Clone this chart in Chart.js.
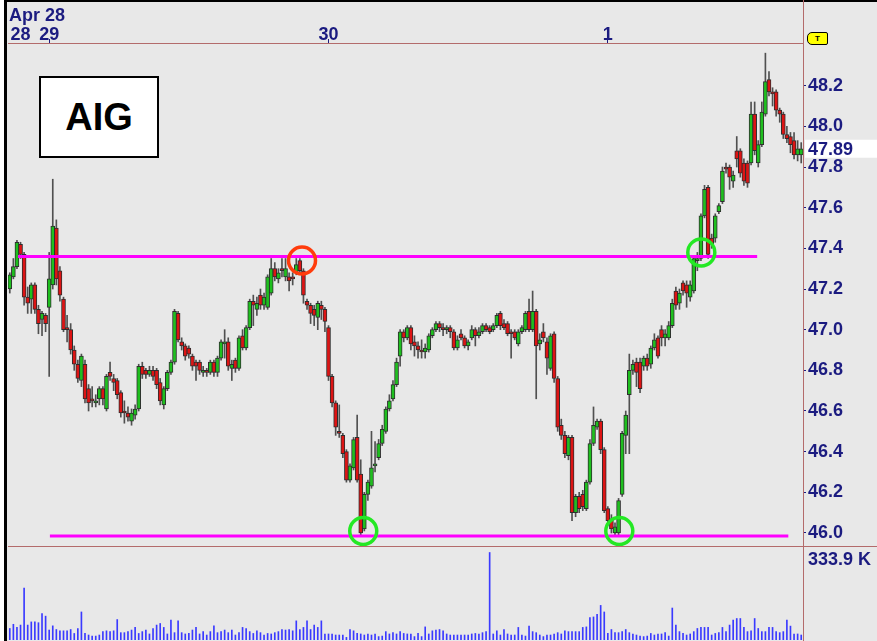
<!DOCTYPE html>
<html>
<head>
<meta charset="utf-8">
<script src="https://cdn.jsdelivr.net/npm/chart.js@4.4.1/dist/chart.umd.min.js"></script>
<style>
html,body{margin:0;padding:0;width:877px;height:641px;overflow:hidden;background:#fff;font-family:"Liberation Sans",Arial,sans-serif;}
#frame{position:absolute;left:4px;top:0;width:873px;height:641px;background:#e8e8e8;border-left:3px solid #000;border-top:2px solid #000;box-sizing:border-box;}
canvas{position:absolute;}
#price{left:-10px;top:0;}
#volume{left:-10px;top:546px;}
.vline{position:absolute;left:803px;top:0;width:1px;height:641px;background:#b36b6b;}
.hline{position:absolute;left:8px;top:546px;width:869px;height:1px;background:#b36b6b;}
.lbl{position:absolute;color:#1b1b80;font-weight:bold;font-size:18px;white-space:nowrap;line-height:18px;}
#aig{position:absolute;left:39px;top:76px;width:120px;height:82px;box-sizing:border-box;border:2px solid #000;background:#fff;font-weight:bold;font-size:38px;text-align:center;line-height:78px;color:#000;}
#ttag{position:absolute;left:807px;top:32px;width:19px;height:11px;background:#ffff00;border:1px solid #000;border-radius:5px 2px 2px 5px;font-size:8px;font-weight:bold;text-align:center;line-height:11px;color:#000;}
</style>
</head>
<body>
<div id="frame"></div>
<canvas id="volume" width="887" height="95"></canvas>
<canvas id="price" width="887" height="580"></canvas>
<div class="vline"></div>
<div class="hline"></div>
<div class="lbl" style="left:9px;top:6px;">Apr 28</div>
<div class="lbl" style="left:808px;top:550px;">333.9 K</div>
<div id="ttag">T</div>
<div id="aig">AIG</div>
<script>
// ---- data (5-minute bars, Apr 28 - May 1) ----
const opens = [
47.20,47.26,47.31,47.42,47.37,47.16,47.15,47.22,47.10,47.05,
47.07,47.11,47.22,47.50,47.29,47.15,47.01,47.00,46.90,46.83,
46.75,46.83,46.71,46.66,46.64,46.66,46.71,46.61,46.79,46.76,
46.75,46.69,46.60,46.59,46.55,46.58,46.61,46.82,46.80,46.78,
46.80,46.80,46.74,46.63,46.71,46.79,46.84,47.08,46.94,46.92,
46.91,46.87,46.84,46.84,46.79,46.80,46.79,46.84,46.79,46.86,
46.93,46.94,46.81,46.85,46.81,46.97,46.91,47.01,47.14,47.10,
47.17,47.12,47.11,47.18,47.30,47.25,47.30,47.26,47.26,47.26,
47.28,47.34,47.29,47.14,47.12,47.10,47.06,47.12,47.10,47.01,
46.77,46.64,46.50,46.48,46.40,46.26,46.32,46.47,46.29,46.02,
46.19,46.23,46.33,46.37,46.44,46.50,46.61,46.66,46.73,46.87,
46.99,46.96,47.01,46.94,46.92,46.90,46.89,46.90,46.97,47.00,
47.03,47.01,47.00,47.01,46.99,46.91,46.98,46.96,46.92,46.96,
47.00,46.97,46.99,47.02,47.01,47.00,47.02,47.08,47.03,47.03,
46.99,46.99,46.93,46.99,47.00,47.09,47.00,47.09,46.93,46.99,
46.94,46.81,46.98,46.76,46.53,46.48,46.38,46.47,46.10,46.18,
46.19,46.12,46.25,46.44,46.52,46.55,46.41,46.12,46.07,46.00,
46.00,46.19,46.48,46.68,46.80,46.84,46.84,46.82,46.86,46.83,
46.91,46.96,47.00,46.96,46.96,47.02,47.19,47.13,47.23,47.22,
47.16,47.19,47.34,47.35,47.56,47.70,47.45,47.45,47.58,47.63,
47.80,47.80,47.73,47.88,47.88,47.82,47.82,47.82,48.06,47.82,
47.91,48.06,48.23,48.17,48.17,48.08,48.06,47.96,47.95,47.93,
47.86,47.86];
const highs = [
47.28,47.35,47.44,47.43,47.38,47.21,47.23,47.23,47.12,47.09,
47.08,47.38,47.74,47.54,47.31,47.16,47.07,47.03,46.92,46.85,
46.88,46.85,46.73,46.72,46.68,46.72,46.72,46.78,46.84,46.78,
46.76,46.70,46.65,46.62,46.61,46.63,46.83,46.84,46.81,46.82,
46.82,46.81,46.76,46.72,46.80,46.85,47.10,47.09,46.96,46.93,
46.92,46.88,46.85,46.85,46.82,46.81,46.85,46.85,46.87,46.95,
47.00,46.96,46.85,46.86,46.97,47.00,47.02,47.15,47.17,47.16,
47.20,47.18,47.27,47.35,47.33,47.30,47.35,47.35,47.28,47.28,
47.35,47.35,47.30,47.15,47.13,47.12,47.14,47.14,47.11,47.02,
46.78,46.65,46.63,46.49,46.41,46.34,46.47,46.58,46.36,46.20,
46.26,46.50,46.45,46.46,46.53,46.62,46.68,46.75,46.86,47.00,
47.00,47.02,47.02,46.97,46.94,46.95,46.93,46.98,47.01,47.04,
47.04,47.03,47.02,47.02,47.00,46.97,47.00,46.97,46.95,47.02,
47.01,47.01,47.03,47.03,47.02,47.03,47.08,47.09,47.05,47.04,
47.00,47.00,47.00,47.02,47.09,47.15,47.19,47.10,46.98,47.03,
46.96,46.98,46.99,46.77,46.56,46.50,46.48,46.48,46.19,46.20,
46.21,46.26,46.46,46.62,46.56,46.56,46.42,46.13,46.09,46.05,
46.17,46.50,46.60,46.88,46.85,46.86,46.86,46.87,46.88,46.92,
46.98,46.97,47.02,47.00,47.04,47.15,47.21,47.20,47.24,47.24,
47.24,47.36,47.38,47.57,47.71,47.71,47.47,47.57,47.62,47.80,
47.82,47.81,47.78,47.95,47.89,47.84,47.83,48.12,48.12,47.93,
48.12,48.36,48.27,48.19,48.18,48.09,48.07,48.00,47.97,47.97,
47.93,47.92];
const lows = [
47.18,47.25,47.30,47.35,47.12,47.08,47.08,47.08,46.98,46.97,
46.99,46.77,47.20,47.22,47.14,46.99,46.94,46.88,46.80,46.74,
46.72,46.64,46.60,46.62,46.62,46.63,46.63,46.60,46.75,46.70,
46.66,46.57,46.54,46.55,46.53,46.56,46.60,46.76,46.76,46.77,
46.75,46.71,46.63,46.61,46.70,46.78,46.83,46.94,46.90,46.85,
46.86,46.80,46.75,46.78,46.77,46.77,46.78,46.77,46.77,46.85,
46.86,46.80,46.75,46.79,46.80,46.90,46.90,47.00,47.02,47.07,
47.10,47.10,47.10,47.17,47.24,47.23,47.26,47.24,47.19,47.22,
47.27,47.27,47.13,47.10,47.03,47.02,47.00,47.05,46.99,46.75,
46.62,46.48,46.47,46.37,46.25,46.25,46.31,46.25,45.99,46.01,
46.16,46.22,46.30,46.36,46.43,46.49,46.60,46.65,46.72,46.82,
46.94,46.95,46.90,46.87,46.86,46.86,46.86,46.89,46.96,46.99,
46.99,46.97,46.98,46.96,46.90,46.90,46.95,46.91,46.90,46.95,
46.92,46.96,46.98,46.99,46.98,46.99,47.01,47.00,47.00,46.97,
46.86,46.95,46.92,46.98,46.99,46.99,46.99,46.66,46.90,46.94,
46.78,46.80,46.74,46.50,46.46,46.37,46.36,46.06,46.08,46.10,
46.11,46.11,46.24,46.43,46.51,46.39,46.10,46.04,46.00,45.99,
45.99,46.18,46.39,46.39,46.78,46.72,46.69,46.80,46.80,46.81,
46.90,46.86,46.92,46.92,46.95,47.01,47.10,47.10,47.17,47.11,
47.14,47.18,47.29,47.34,47.55,47.35,47.40,47.43,47.57,47.62,
47.77,47.69,47.70,47.80,47.75,47.71,47.70,47.81,47.86,47.80,
47.90,48.05,48.15,48.10,48.05,48.02,47.94,47.92,47.87,47.84,
47.83,47.82];
const closes = [
47.27,47.31,47.43,47.37,47.16,47.13,47.22,47.10,47.03,47.08,
47.03,47.25,47.51,47.25,47.17,47.00,47.00,46.90,46.83,46.76,
46.87,46.66,46.64,46.65,46.65,46.71,46.66,46.77,46.77,46.74,
46.68,46.59,46.59,46.57,46.59,46.61,46.82,46.78,46.78,46.80,
46.77,46.73,46.65,46.71,46.79,46.84,47.09,46.95,46.92,46.87,
46.88,46.82,46.82,46.80,46.80,46.79,46.84,46.79,46.86,46.94,
46.94,46.82,46.83,46.81,46.96,46.91,47.01,47.14,47.12,47.13,
47.12,47.16,47.26,47.30,47.26,47.28,47.29,47.30,47.24,47.25,
47.32,47.29,47.17,47.12,47.08,47.07,47.13,47.10,47.04,46.77,
46.64,46.52,46.49,46.39,46.26,46.33,46.46,46.26,46.00,46.19,
46.25,46.32,46.34,46.44,46.51,46.61,46.65,46.73,46.84,46.99,
46.96,47.01,46.93,46.92,46.90,46.89,46.91,46.97,47.00,47.03,
47.01,47.00,47.01,46.99,46.91,46.95,46.96,46.92,46.94,47.00,
46.97,46.99,47.02,47.00,46.99,47.02,47.07,47.02,47.01,46.98,
46.98,46.96,46.99,47.01,47.08,47.00,47.09,46.92,46.95,46.96,
46.86,46.97,46.76,46.52,46.48,46.39,46.47,46.10,46.18,46.12,
46.13,46.25,46.44,46.53,46.55,46.41,46.11,46.06,46.02,46.03,
46.16,46.49,46.58,46.80,46.83,46.79,46.71,46.86,46.82,46.91,
46.95,46.87,46.96,46.98,47.02,47.13,47.12,47.18,47.19,47.18,
47.22,47.35,47.35,47.56,47.69,47.37,47.42,47.56,47.61,47.78,
47.79,47.75,47.76,47.84,47.77,47.73,47.72,48.06,47.88,47.91,
48.07,48.22,48.17,48.16,48.08,48.06,47.96,47.94,47.91,47.86,
47.89,47.89];
// volume in thousands
const volumes = [
44,60,48,57,198,57,69,69,66,101,
91,38,54,40,35,35,35,40,25,44,
107,25,19,15,15,19,32,35,32,35,
78,28,28,32,38,48,25,32,38,23,
44,57,63,48,23,76,28,73,28,23,
25,38,48,23,32,19,32,54,28,32,
38,28,38,19,28,48,44,32,25,35,
28,19,25,23,28,32,40,38,40,35,
73,40,48,73,40,57,48,73,23,23,
23,19,19,19,10,40,35,25,23,19,
23,19,23,13,15,32,23,28,23,32,
25,23,23,13,25,13,50,23,35,38,
40,35,23,19,19,19,19,19,19,23,
25,23,28,32,333.9,23,35,19,40,23,
19,19,48,19,15,53,32,28,19,13,
19,19,23,28,23,35,32,32,32,32,
48,50,86,88,98,132,107,25,40,28,
28,32,40,28,23,19,15,13,15,25,
19,23,23,28,15,122,57,32,25,19,
23,32,44,48,48,48,19,25,28,48,
32,57,76,82,82,48,32,35,82,44,
32,32,48,48,32,28,32,76,53,23,
23,19];
const priceTicks = [46.0,46.2,46.4,46.6,46.8,47.0,47.2,47.4,47.6,47.8,48.0,48.2];
const dayTickIdx = [3, 11, 89, 167];
const dayTickLabels = ['28', '29', '30', '1'];
const resistance = 47.36, resistanceSpan = [2.3, 208.7];
const support = 45.985, supportSpan = [11.2, 217.4];
const redMarks = [{x: 81.6, y: 47.34}];
const greenMarks = [{x: 98.7, y: 46.01}, {x: 170.2, y: 46.01}, {x: 193.1, y: 47.38}];
const volMaxLabel = 333.9;

// ---- build ----
const N = closes.length;
const NAVY = '#1b1b80', AXIS = '#b36b6b', FONT = '"Liberation Sans", Arial, sans-serif';
const UP = '#1fbf1f', DOWN = '#dd1414';
const wickData = closes.map((c, i) => ({x: i, y: [lows[i], highs[i]]}));
const bodyData = closes.map((c, i) => ({x: i, y: [opens[i], c]}));
const bodyColors = closes.map((c, i) => c >= opens[i] ? UP : DOWN);
const volData = volumes.map((v, i) => ({x: i, y: v}));

const lastPricePlugin = {
  id: 'lastPrice',
  afterDraw(chart) {
    const ctx = chart.ctx, y = chart.scales.y.getPixelForValue(closes[N - 1]);
    const x0 = chart.chartArea.right + 2;
    ctx.save();
    ctx.fillStyle = '#ffffff';
    ctx.fillRect(x0, y - 9, 90, 18);
    ctx.fillStyle = NAVY;
    ctx.font = 'bold 18px ' + FONT;
    ctx.textBaseline = 'middle';
    ctx.fillText(closes[N - 1].toFixed(2), x0 + 3, y + 1);
    ctx.restore();
  }
};

new Chart(document.getElementById('price'), {
  type: 'bar',
  data: {
    datasets: [
      {type: 'bar', label: 'Range', data: wickData, backgroundColor: '#505050', borderWidth: 0,
       barThickness: 1, grouped: false, order: 5},
      {type: 'bar', label: 'AIG', data: bodyData, backgroundColor: bodyColors, borderColor: '#2e2e2e',
       borderWidth: 1, borderSkipped: false, barThickness: 4, grouped: false, minBarLength: 2, order: 4},
      {type: 'line', label: 'Resistance', data: [{x: resistanceSpan[0], y: resistance}, {x: resistanceSpan[1], y: resistance}],
       borderColor: '#ff00ff', borderWidth: 3, pointRadius: 0, order: 3},
      {type: 'line', label: 'Support', data: [{x: supportSpan[0], y: support}, {x: supportSpan[1], y: support}],
       borderColor: '#ff00ff', borderWidth: 3, pointRadius: 0, order: 3},
      {type: 'line', label: 'Top', data: redMarks, showLine: false, pointRadius: 13.5, pointBorderWidth: 3.5,
       pointBorderColor: '#ff3c0c', pointBackgroundColor: 'rgba(0,0,0,0)', clip: false, order: 1},
      {type: 'line', label: 'Bottoms', data: greenMarks, showLine: false, pointRadius: 13.5, pointBorderWidth: 3.5,
       pointBorderColor: '#24e824', pointBackgroundColor: 'rgba(0,0,0,0)', clip: false, order: 1}
    ]
  },
  options: {
    responsive: false, animation: false, devicePixelRatio: 1,
    layout: {padding: {left: 18, right: 0, top: 0, bottom: 34}},
    plugins: {legend: {display: false}, tooltip: {enabled: false}},
    scales: {
      x: {
        type: 'linear', position: 'top', min: -0.5, max: N - 0.5, offset: false,
        afterBuildTicks: s => { s.ticks = dayTickIdx.map(v => ({value: v})); },
        afterFit: s => { s.height = 43; },
        ticks: {autoSkip: false, maxRotation: 0, padding: -7, color: NAVY,
                font: {family: FONT, size: 18, weight: 'bold'},
                callback: v => { const k = dayTickIdx.indexOf(v); return k >= 0 ? dayTickLabels[k] : ''; }},
        grid: {offset: false, drawOnChartArea: false, tickLength: 4,
               color: ctx => ctx.index === 0 ? 'rgba(0,0,0,0)' : NAVY},
        border: {display: true, color: AXIS, width: 1}
      },
      y: {
        position: 'right', min: 45.936, max: 48.41,
        afterBuildTicks: s => { s.ticks = priceTicks.map(v => ({value: v})); },
        afterFit: s => { s.width = 74; },
        ticks: {padding: 2, color: NAVY, font: {family: FONT, size: 18, weight: 'bold'},
                callback: v => Number(v).toFixed(1)},
        grid: {drawOnChartArea: false, tickLength: 3, color: NAVY},
        border: {display: true, color: AXIS, width: 1}
      }
    }
  },
  plugins: [lastPricePlugin]
});

new Chart(document.getElementById('volume'), {
  type: 'bar',
  data: {
    datasets: [{label: 'Volume', data: volData, backgroundColor: '#3a3aff', borderWidth: 0,
                barThickness: 1, grouped: false}]
  },
  options: {
    responsive: false, animation: false, devicePixelRatio: 1,
    layout: {padding: {left: 18, right: 0, top: 3, bottom: 1}},
    plugins: {legend: {display: false}, tooltip: {enabled: false}},
    scales: {
      x: {type: 'linear', display: false, min: -0.5, max: N - 0.5, offset: false},
      y: {position: 'right', min: 0, max: volMaxLabel * 1.04,
          afterFit: s => { s.width = 74; },
          ticks: {display: false}, grid: {display: false},
          border: {display: true, color: AXIS, width: 1}}
    }
  }
});
</script>
</body>
</html>
